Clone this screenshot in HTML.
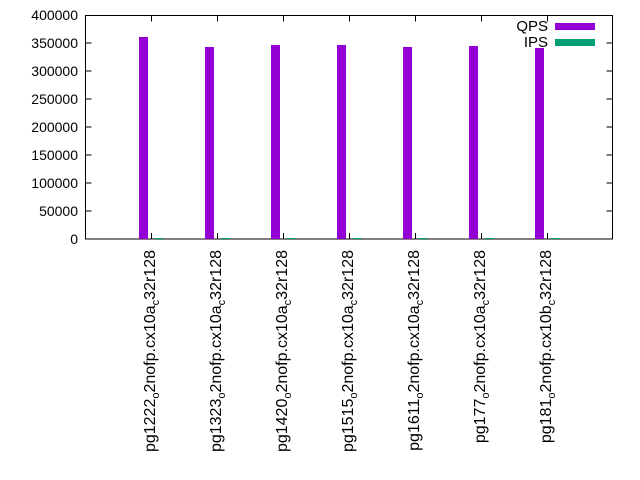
<!DOCTYPE html>
<html><head><style>body{margin:0;background:#fff}svg{display:block}text{font-family:"Liberation Sans",sans-serif;fill:#000}</style></head>
<body>
<svg width="640" height="480" viewBox="0 0 640 480" style="font-size:14px">
<g stroke="#000" stroke-width="1" fill="none">
<rect x="85.5" y="15.5" width="527" height="223.5"/>
<path d="M85.5 239h6M85.5 211h6M85.5 183h6M85.5 155h6M85.5 127h6M85.5 99h6M85.5 71h6M85.5 43h6M85.5 15.5h6"/>
<path d="M612.5 211h-6M612.5 183h-6M612.5 155h-6M612.5 127h-6M612.5 99h-6M612.5 71h-6M612.5 43h-6"/>
<path d="M151.5 239v-6M151.5 15.5v6M217.5 239v-6M217.5 15.5v6M283.5 239v-6M283.5 15.5v6M349.5 239v-6M349.5 15.5v6M415.5 239v-6M415.5 15.5v6M481.5 239v-6M481.5 15.5v6M547.5 239v-6M547.5 15.5v6"/>
</g>
<g text-anchor="end">
<text x="78" y="244">0</text><text x="78" y="216">50000</text><text x="78" y="188">100000</text><text x="78" y="160">150000</text><text x="78" y="132">200000</text><text x="78" y="104">250000</text><text x="78" y="76">300000</text><text x="78" y="48">350000</text><text x="78" y="20">400000</text>
</g>
<g fill="#9400d3">
<rect x="139" y="37" width="9" height="202"/>
<rect x="205" y="47" width="9" height="192"/>
<rect x="271" y="45" width="9" height="194"/>
<rect x="337" y="45" width="9" height="194"/>
<rect x="403" y="47" width="9" height="192"/>
<rect x="469" y="46" width="9" height="193"/>
<rect x="535" y="48" width="9" height="191"/>
</g>
<g fill="#009e73">
<rect x="155" y="238" width="9" height="1"/><rect x="221" y="238" width="9" height="1"/><rect x="287" y="238" width="9" height="1"/><rect x="353" y="238" width="9" height="1"/><rect x="419" y="238" width="9" height="1"/><rect x="485" y="238" width="9" height="1"/><rect x="551" y="238" width="9" height="1"/>
</g>
<text x="548" y="31" text-anchor="end" style="font-size:15px">QPS</text>
<rect x="555" y="23" width="40" height="7" fill="#9400d3"/>
<text x="548" y="47" text-anchor="end" style="font-size:15px">IPS</text>
<rect x="555" y="39" width="40" height="7" fill="#009e73"/>
<g text-anchor="end" style="font-size:16px">
<text transform="translate(155,250) rotate(-90)">pg1222<tspan dy="4" style="font-size:11px">o</tspan><tspan dy="-4">2nofp.cx10a</tspan><tspan dy="4" style="font-size:11px">c</tspan><tspan dy="-4">32r128</tspan></text>
<text transform="translate(221,250) rotate(-90)">pg1323<tspan dy="4" style="font-size:11px">o</tspan><tspan dy="-4">2nofp.cx10a</tspan><tspan dy="4" style="font-size:11px">c</tspan><tspan dy="-4">32r128</tspan></text>
<text transform="translate(287,250) rotate(-90)">pg1420<tspan dy="4" style="font-size:11px">o</tspan><tspan dy="-4">2nofp.cx10a</tspan><tspan dy="4" style="font-size:11px">c</tspan><tspan dy="-4">32r128</tspan></text>
<text transform="translate(353,250) rotate(-90)">pg1515<tspan dy="4" style="font-size:11px">o</tspan><tspan dy="-4">2nofp.cx10a</tspan><tspan dy="4" style="font-size:11px">c</tspan><tspan dy="-4">32r128</tspan></text>
<text transform="translate(419,250) rotate(-90)">pg1611<tspan dy="4" style="font-size:11px">o</tspan><tspan dy="-4">2nofp.cx10a</tspan><tspan dy="4" style="font-size:11px">c</tspan><tspan dy="-4">32r128</tspan></text>
<text transform="translate(485,250) rotate(-90)">pg177<tspan dy="4" style="font-size:11px">o</tspan><tspan dy="-4">2nofp.cx10a</tspan><tspan dy="4" style="font-size:11px">c</tspan><tspan dy="-4">32r128</tspan></text>
<text transform="translate(551,250) rotate(-90)">pg181<tspan dy="4" style="font-size:11px">o</tspan><tspan dy="-4">2nofp.cx10b</tspan><tspan dy="4" style="font-size:11px">c</tspan><tspan dy="-4">32r128</tspan></text>
</g>
</svg>
</body></html>
